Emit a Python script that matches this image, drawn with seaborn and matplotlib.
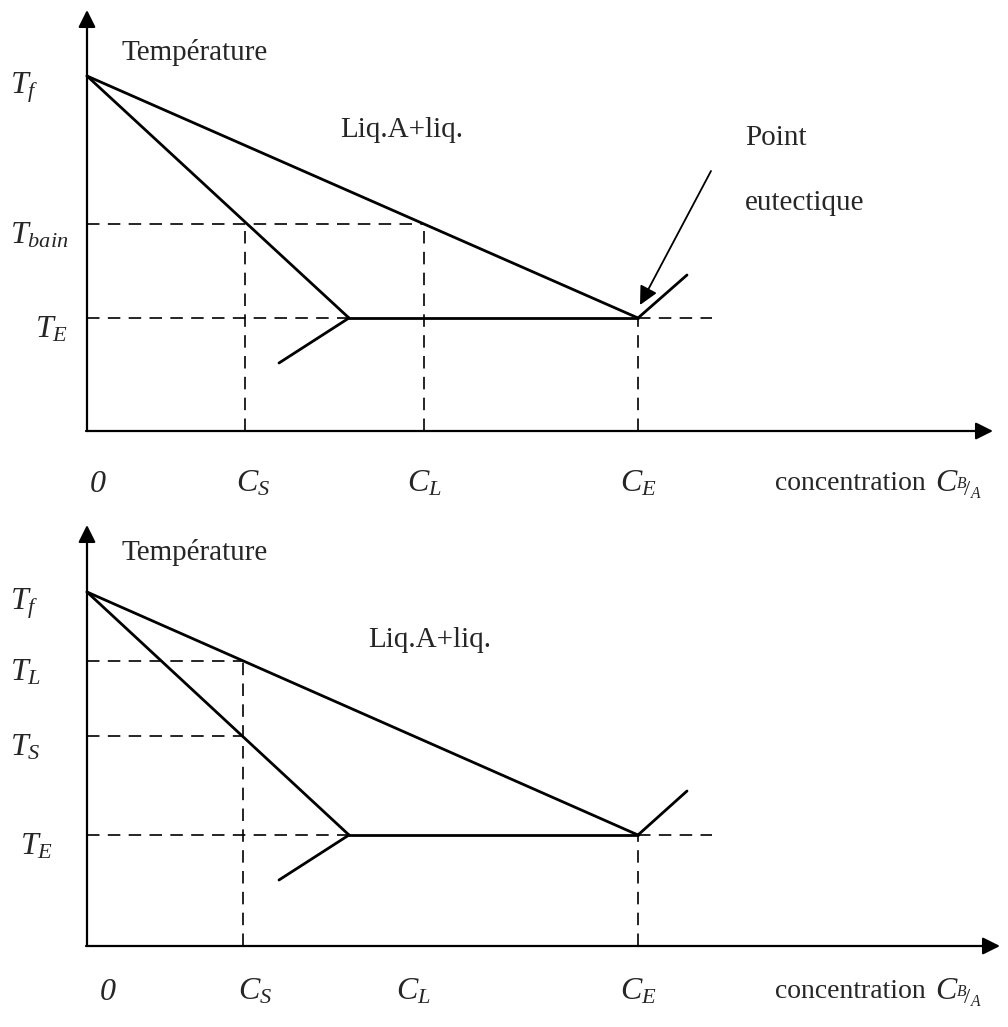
import numpy as np
import pandas as pd
import seaborn as sns
import matplotlib.pyplot as plt

sns.set_style("white")
plt.rcParams['font.family'] = ['Liberation Serif', 'DejaVu Serif']
plt.rcParams['mathtext.fontset'] = 'custom'
plt.rcParams['mathtext.rm'] = 'Liberation Serif'
plt.rcParams['mathtext.it'] = 'Liberation Serif:italic'

# concentration axis (same for both diagrams), 0 = pure A
c_ticks_top = [0.0, 1.58, 3.37, 5.51]
c_ticks_bot = [0.0, 1.56, 3.26, 5.51]
c_tick_labels = ['0', '$C_S$', '$C_L$', '$C_E$']
c_solidus_end = 2.62
c_dash_end = 6.25
c_branch_low = 1.92
c_branch_high = 6.00

# temperatures, top diagram (bath temperature)
t_top = [3.55, 2.07, 1.13]          # T_f, T_bain, T_E
t_top_labels = ['$T_f$', '$T_{bain}$', '$T_E$']
# temperatures, bottom diagram
t_bot = [3.54, 2.85, 2.10, 1.11]    # T_f, T_L, T_S, T_E
t_bot_labels = ['$T_f$', '$T_L$', '$T_S$', '$T_E$']
t_branch_low = [0.68, 0.66]
t_branch_high = [1.56, 1.55]

fig = plt.figure(figsize=(10.08, 10.27), dpi=100)
ax_top = fig.add_axes([0, 0.5, 1, 0.5])
ax_bot = fig.add_axes([0, 0, 1, 0.5])


def segs_frame(segs):
    rows = []
    for i, (p, q) in enumerate(segs):
        rows.append({'seg': i, 'c': p[0], 't': p[1]})
        rows.append({'seg': i, 'c': q[0], 't': q[1]})
    return pd.DataFrame(rows)


def draw(ax, solid, dashed):
    sns.lineplot(data=segs_frame(solid), x='c', y='t', units='seg', estimator=None,
                 sort=False, color='black', lw=2.0, ax=ax)
    sns.lineplot(data=segs_frame(dashed), x='c', y='t', units='seg', estimator=None,
                 sort=False, color='black', lw=1.2, ax=ax, dashes=False,
                 linestyle=(0, (7.5, 5)))


def frame(ax, y_tip, x_tip, ylim):
    ax.set_xlim(-0.87, 9.21)
    ax.set_ylim(*ylim)
    ax.axis('off')
    ax.annotate('', xy=(0, y_tip), xytext=(0, 0),
                arrowprops=dict(arrowstyle='-|>', color='black', lw=1.6,
                                mutation_scale=26, shrinkA=0, shrinkB=0))
    ax.annotate('', xy=(x_tip, 0), xytext=(-0.01, 0),
                arrowprops=dict(arrowstyle='-|>', color='black', lw=1.6,
                                mutation_scale=26, shrinkA=0, shrinkB=0))


def conc_label(ax, y):
    ax.text(6.88, y, 'concentration', fontsize=20, va='center')
    ax.text(8.48, y - 0.02, '$C_{{}^{B}\\!/_{A}}$', fontsize=23, va='center')


# ---- top diagram ----
tf, tb, te = t_top
cs, cl, ce = c_ticks_top[1:]
solid = [((0, tf), (ce, te)), ((0, tf), (c_solidus_end, te)),
         ((c_solidus_end, te), (ce, te)),
         ((c_solidus_end, te), (c_branch_low, t_branch_low[0])),
         ((ce, te), (c_branch_high, t_branch_high[0]))]
dashed = [((0, tb), (cl, tb)), ((cs, 0), (cs, tb)), ((cl, 0), (cl, tb)),
          ((0, te), (c_solidus_end, te)), ((ce, te), (c_dash_end, te)),
          ((ce, 0), (ce, te))]
frame(ax_top, 4.21, 9.06, (-0.825, 4.31))
draw(ax_top, solid, dashed)

ax_top.annotate('', xy=(5.53, 1.26), xytext=(6.24, 2.60),
                arrowprops=dict(arrowstyle='-|>', color='black', lw=1.3,
                                mutation_scale=28, shrinkA=0, shrinkB=0))
ax_top.text(0.35, 3.79, 'Température', fontsize=21, va='center')
ax_top.text(2.53, 3.01, 'Liq.A+liq.', fontsize=21, va='center')
ax_top.text(6.58, 2.93, 'Point', fontsize=21, va='center')
ax_top.text(6.58, 2.28, 'eutectique', fontsize=21, va='center')
for t, lab, x in zip(t_top, t_top_labels, [-0.77, -0.77, -0.52]):
    ax_top.text(x, t - 0.12, lab, fontsize=23, va='center')
for c, lab, dx in zip(c_ticks_top, c_tick_labels, [0.11, 0.08, 0.0, 0.0]):
    ax_top.text(c + dx, -0.53, lab, fontsize=23, ha='center', va='center',
                fontstyle='italic')
conc_label(ax_top, -0.52)

# ---- bottom diagram ----
tf, tl, ts, te = t_bot
cs, cl, ce = c_ticks_bot[1:]
solid = [((0, tf), (ce, te)), ((0, tf), (c_solidus_end, te)),
         ((c_solidus_end, te), (ce, te)),
         ((c_solidus_end, te), (c_branch_low, t_branch_low[1])),
         ((ce, te), (c_branch_high, t_branch_high[1]))]
dashed = [((0, tl), (cs, tl)), ((0, ts), (cs, ts)), ((cs, 0), (cs, tl)),
          ((0, te), (c_solidus_end, te)), ((ce, te), (c_dash_end, te)),
          ((ce, 0), (ce, te))]
frame(ax_bot, 4.21, 9.13, (-0.81, 4.325))
draw(ax_bot, solid, dashed)

ax_bot.text(0.35, 3.94, 'Température', fontsize=21, va='center')
ax_bot.text(2.81, 3.06, 'Liq.A+liq.', fontsize=21, va='center')
for t, lab, x in zip(t_bot, t_bot_labels, [-0.77, -0.77, -0.77, -0.67]):
    ax_bot.text(x, t - 0.12, lab, fontsize=23, va='center')
for c, lab, dx in zip(c_ticks_bot, c_tick_labels, [0.21, 0.12, 0.0, 0.0]):
    ax_bot.text(c + dx, -0.46, lab, fontsize=23, ha='center', va='center',
                fontstyle='italic')
conc_label(ax_bot, -0.45)

fig.savefig('out.png', dpi=100)
